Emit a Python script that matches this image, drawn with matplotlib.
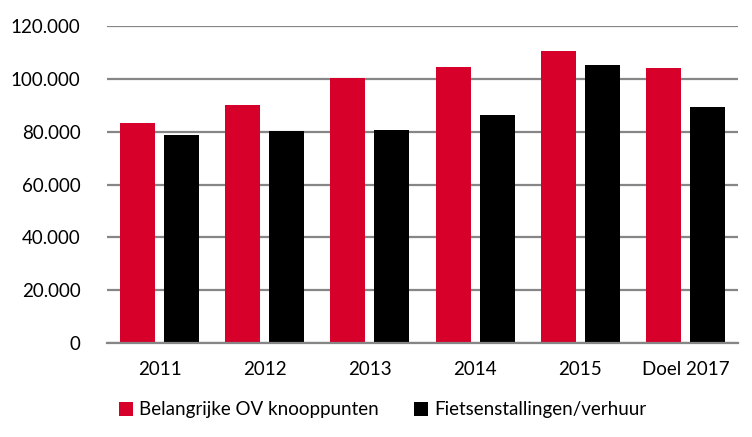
import numpy as np
import matplotlib.pyplot as plt

plt.rcParams['font.family'] = ['Lato', 'DejaVu Sans']

categories = ['2011', '2012', '2013', '2014', '2015', 'Doel 2017']
ov_knooppunten = [83300, 90200, 100400, 104500, 110600, 104200]
fietsenstallingen = [78800, 80300, 80700, 86400, 105300, 89400]
y_ticks = [0, 20000, 40000, 60000, 80000, 100000, 120000]
y_labels = ['0', '20.000', '40.000', '60.000', '80.000', '100.000', '120.000']

red = '#D6002A'
grid_col = '#868686'

fig = plt.figure(figsize=(7.52, 4.37), dpi=100)
ax = fig.add_axes([0.1423, 0.215, 0.8391, 0.7255])

x = np.arange(len(categories))
w = 0.333
off = 0.209
ax.bar(x - off, ov_knooppunten, width=w, color=red, label='Belangrijke OV knooppunten', zorder=3)
ax.bar(x + off, fietsenstallingen, width=w, color='black', label='Fietsenstallingen/verhuur', zorder=3)

ax.set_xlim(-0.5, len(categories) - 0.5)
ax.set_ylim(0, 120000)
ax.set_yticks(y_ticks)
ax.set_yticklabels(y_labels)
ax.set_xticks(x)
ax.set_xticklabels(categories)
ax.tick_params(axis='both', length=0, labelsize=13.5, colors='black')
ax.tick_params(axis='y', pad=19)
ax.tick_params(axis='x', pad=13)

ax.yaxis.grid(True, color=grid_col, linewidth=1.6, zorder=0)
for s in ['top', 'right', 'left']:
    ax.spines[s].set_visible(False)
ax.spines['bottom'].set_color(grid_col)
ax.spines['bottom'].set_linewidth(1.6)
ax.spines['bottom'].set_zorder(4)

fig.legend(loc='center', bbox_to_anchor=(0.509, 0.062), ncol=2, frameon=False,
           fontsize=13.5, handlelength=0.75, handleheight=0.75, handletextpad=0.3,
           columnspacing=1.9)

fig.savefig('out.png', dpi=100)
